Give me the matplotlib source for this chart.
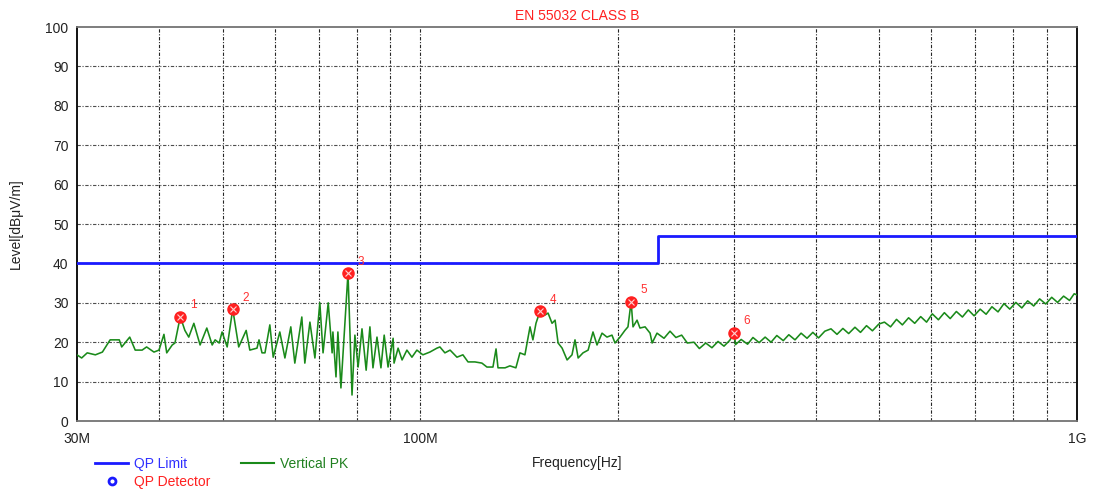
import matplotlib
matplotlib.use("Agg")
import matplotlib.pyplot as plt
from matplotlib.lines import Line2D
from matplotlib.ticker import FixedLocator, NullFormatter

plt.rcParams["font.family"] = ["Liberation Sans", "DejaVu Sans"]

# limit line (QP, EN 55032 class B, 3 m)
limit_freq = [30, 230, 230, 1000]
limit_level = [40, 40, 47, 47]

# vertical PK scan (MHz, dBuV/m)
pk_freq = [30.0, 30.5, 31.1, 32.0, 32.8, 33.7, 34.8, 35.1, 36.1, 36.8,
           37.7, 38.3, 39.3, 40.0, 40.7, 41.1, 41.9, 42.3, 43.1, 43.8,
           44.4, 45.2, 46.2, 47.3, 48.2, 48.7, 49.4, 49.9, 50.8, 51.8,
           52.9, 54.3, 55.0, 56.4, 56.8, 57.4, 58.0, 59.0, 59.7, 61.1,
           62.2, 63.5, 64.4, 66.0, 66.7, 67.9, 69.1, 70.3, 71.1, 72.4,
           73.4, 73.6, 74.4, 74.9, 75.7, 77.6, 78.7, 79.5, 80.4, 81.5,
           82.7, 83.8, 84.7, 85.9, 87.1, 88.1, 89.3, 90.9, 91.2, 92.5,
           93.8, 95.4, 97.1, 98.8, 100.9, 103.4, 106.0, 107.1, 109.0, 111.0,
           113.7, 116.1, 118.2, 121.1, 124.1, 126.3, 129.0, 130.4, 131.3, 134.6,
           136.9, 139.8, 141.8, 144.3, 146.9, 148.4, 150.0, 151.1, 152.1, 154.8,
           156.5, 158.7, 160.4, 162.1, 164.4, 167.3, 170.2, 172.0, 173.9, 176.9,
           180.1, 183.2, 185.8, 189.1, 192.4, 195.8, 197.9, 201.4, 204.9, 207.1,
           209.4, 210.8, 213.8, 216.0, 219.9, 223.8, 225.4, 229.3,
           235, 240, 245, 250, 255, 261, 266, 272, 278, 284,
           290, 296, 300.5, 302, 308, 315, 321, 328, 335, 342,
           349, 357, 364, 372, 380, 388, 396, 404, 413, 422,
           431, 440, 449, 459, 468, 478, 488, 499, 509, 520,
           531, 542, 554, 566, 578, 590, 602, 615, 628, 641,
           655, 669, 683, 697, 712, 727, 742, 758, 774, 790,
           807, 824, 841, 859, 877, 896, 915, 934, 954, 974,
           990, 1000]
pk_level = [16.8, 16.0, 17.3, 16.8, 17.5, 20.6, 20.6, 18.8, 21.3, 18.0,
            18.0, 18.8, 17.5, 18.0, 22.0, 17.3, 19.3, 19.8, 26.5, 23.0,
            21.3, 24.8, 19.3, 23.6, 19.3, 20.6, 19.8, 22.6, 18.8, 28.4,
            18.8, 23.0, 18.0, 18.5, 20.6, 17.3, 17.3, 24.4, 16.2, 22.6,
            16.0, 23.9, 14.7, 26.4, 14.7, 25.1, 16.0, 30.0, 17.3, 30.0,
            17.3, 22.6, 11.2, 22.6, 8.4, 37.6, 6.6, 21.8, 13.7, 23.4,
            12.9, 23.9, 13.5, 21.3, 13.5, 21.8, 13.7, 21.0, 14.7, 18.5,
            15.5, 18.0, 16.2, 18.0, 16.8, 17.5, 18.5, 18.8, 17.3, 18.0,
            16.2, 16.8, 15.0, 15.0, 14.7, 13.7, 13.7, 18.3, 13.5, 13.5,
            14.0, 13.5, 17.3, 16.8, 23.9, 20.6, 24.8, 26.4, 28.0, 26.9,
            27.4, 24.8, 25.6, 19.8, 18.5, 15.5, 16.8, 20.6, 16.0, 17.3,
            18.0, 22.6, 19.3, 22.3, 21.3, 21.8, 19.8, 21.3, 23.0, 23.9,
            30.3, 23.9, 25.6, 23.6, 23.9, 22.3, 19.8, 22.3,
            21.0, 22.8, 21.2, 21.8, 19.8, 20.0, 18.4, 19.8, 18.6, 20.2,
            19.0, 20.5, 22.4, 19.4, 20.7, 19.5, 21.2, 19.9, 21.3, 20.0,
            21.7, 20.4, 21.9, 20.6, 22.3, 21.0, 22.5, 21.1, 22.8, 23.4,
            22.0, 23.5, 22.2, 23.8, 22.5, 24.2, 22.9, 24.6, 25.1, 23.9,
            25.8, 24.4, 26.2, 24.8, 26.5, 25.1, 27.2, 25.7, 27.5, 26.0,
            27.8, 26.4, 28.2, 26.7, 28.4, 27.1, 29.0, 27.7, 29.8, 28.4,
            30.1, 28.7, 30.5, 29.2, 31.0, 29.7, 31.4, 30.1, 31.7, 30.6,
            32.3, 32.0]

# QP marker points
mk_freq = [43.1, 51.8, 77.6, 152.1, 209.4, 300.5]
mk_level = [26.5, 28.4, 37.6, 27.9, 30.3, 22.4]
mk_label = ["1", "2", "3", "4", "5", "6"]

fig = plt.figure(figsize=(10.93, 4.93), dpi=100)
ax = fig.add_axes([0.0704, 0.146, 0.915, 0.7992])

ax.set_xscale("log")
ax.set_xlim(30, 1000)
ax.set_ylim(0, 100)

grid_x = [40, 50, 60, 70, 80, 90, 100, 200, 300, 400, 500, 600, 700, 800, 900]
ax.xaxis.set_major_locator(FixedLocator([30, 100, 1000]))
ax.xaxis.set_minor_locator(FixedLocator(grid_x))
ax.xaxis.set_minor_formatter(NullFormatter())
ax.set_xticklabels(["30M", "100M", "1G"])
ax.set_yticks(range(0, 101, 10))
ax.tick_params(axis="both", which="both", length=0, labelsize=10, labelcolor="#222222")
ax.tick_params(axis="x", pad=8)
ax.tick_params(axis="y", pad=6)

for g in grid_x:
    ax.axvline(g, color="0.15", lw=0.8, ls=(0, (3, 1.5, 1, 1.5)), zorder=1)
for g in range(10, 100, 10):
    ax.axhline(g, color="0.3", lw=0.8, ls=(0, (3, 1.5, 1, 1.5)), zorder=1)

ax.plot(limit_freq, limit_level, color="#1a1aff", lw=2, zorder=3)
ax.plot(pk_freq, pk_level, color="#1a8a1a", lw=1.15, zorder=4)

ax.plot(mk_freq, mk_level, "o", ms=8, color="#ff2020", zorder=5)
ax.plot(mk_freq, mk_level, "x", ms=4, mew=0.8, color="#ffd0d0", zorder=6)
for f, l, t in zip(mk_freq, mk_level, mk_label):
    ax.annotate(t, (f, l), xytext=(7, 6), textcoords="offset points",
                color="#ff3030", fontsize=8.5, zorder=6)

for side in ["left", "right"]:
    ax.spines[side].set_color("black")
    ax.spines[side].set_linewidth(1.3)
for side in ["top", "bottom"]:
    ax.spines[side].set_color("0.45")
    ax.spines[side].set_linewidth(1.3)

ax.set_title("EN 55032 CLASS B", color="#ff2020", fontsize=10, pad=5)
ax.set_ylabel("Level[dBμV/m]", fontsize=10, color="#222222", labelpad=16)
fig.text(0.528, 0.06, "Frequency[Hz]", ha="center", va="center", fontsize=10, color="#222222")

handles = [Line2D([], [], color="#1a1aff", lw=2),
           Line2D([], [], ls="none", marker="o", mfc="none", mec="#1a1aff", mew=2, ms=5),
           Line2D([], [], color="#1a8a1a", lw=1.5)]
labels = ["QP Limit", "QP Detector", "Vertical PK"]
fig.legend(handles, labels, loc="upper left", bbox_to_anchor=(0.087, 0.074),
           ncol=2, frameon=False, fontsize=10, borderpad=0, borderaxespad=0,
           handlelength=2.4, handletextpad=0.4, labelspacing=0.3, columnspacing=2.2,
           labelcolor=["#3030ff", "#ff2020", "#208020"])

fig.savefig("out.png", dpi=100)
